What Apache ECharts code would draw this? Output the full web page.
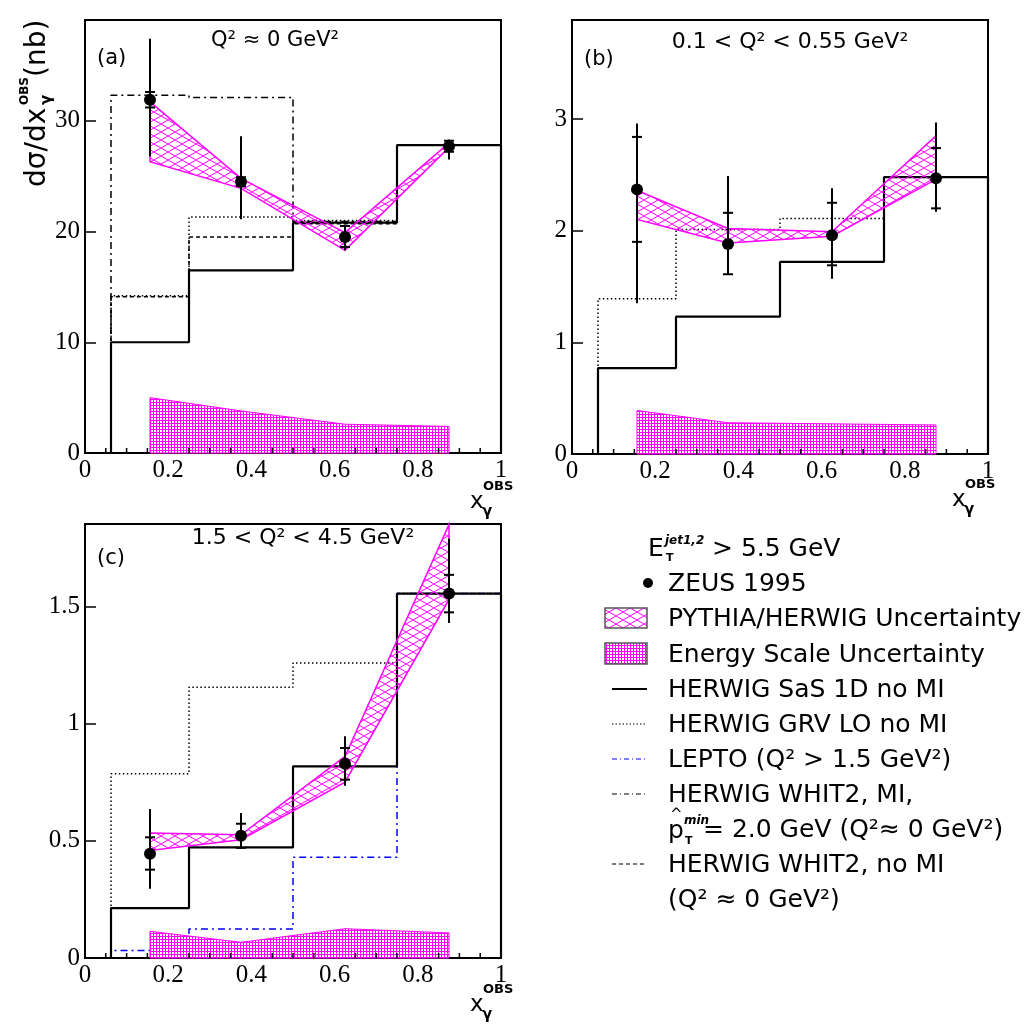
<!DOCTYPE html>
<html><head><meta charset="utf-8">
<script src="https://cdn.jsdelivr.net/npm/echarts@6/dist/echarts.min.js"></script>
<style>html,body{margin:0;padding:0;background:#fff}#c{width:1027px;height:1025px}</style>
</head><body><div id="c"></div>
<script>
// ---------------- DATA ----------------
const binEdges = [0.0625, 0.25, 0.5, 0.75, 1.0];
const xPoints  = [0.15625, 0.375, 0.625, 0.875];
const xMinorTicks = [0.05, 0.1, 0.15, 0.25, 0.3, 0.35, 0.45, 0.5, 0.55, 0.65, 0.7, 0.75, 0.85, 0.9, 0.95];

// Panel (a)  Q^2 ~ 0
const aZeus     = [31.9, 24.5, 19.5, 27.7];
const aStatLo   = [31.2, 24.1, 18.6, 27.2];
const aStatHi   = [32.6, 24.9, 20.5, 28.2];
const aTotLo    = [26.8, 21.1, 18.3, 26.5];
const aTotHi    = [37.4, 28.6, 20.6, 28.3];
const aBandUp   = [31.7, 24.8, 19.9, 28.0];
const aBandLo   = [26.3, 23.9, 18.3, 27.6];
const aEscale   = [5.0, 3.8, 2.6, 2.4];
const aSaS      = [10.0, 16.5, 20.8, 27.8];
const aGRV      = [14.2, 21.3, 21.0, 27.8];
const aWhit2MI  = [32.3, 32.1, 20.9, 27.8];
const aWhit2    = [14.1, 19.5, 20.7, 27.8];

// Panel (b)  0.1 < Q^2 < 0.55
const bZeus     = [2.37, 1.88, 1.96, 2.47];
const bStatLo   = [1.90, 1.61, 1.69, 2.20];
const bStatHi   = [2.84, 2.16, 2.25, 2.74];
const bTotLo    = [1.35, 1.61, 1.57, 2.17];
const bTotHi    = [2.96, 2.49, 2.38, 2.97];
const bBandUp   = [2.36, 2.02, 1.99, 2.85];
const bBandLo   = [2.10, 1.89, 1.95, 2.46];
const bEscale   = [0.39, 0.28, 0.27, 0.26];
const bSaS      = [0.77, 1.23, 1.72, 2.48];
const bGRV      = [1.39, 2.01, 2.11, 2.48];

// Panel (c)  1.5 < Q^2 < 4.5
const cZeus     = [0.445, 0.522, 0.829, 1.555];
const cStatLo   = [0.377, 0.470, 0.761, 1.475];
const cStatHi   = [0.515, 0.573, 0.896, 1.635];
const cTotLo    = [0.295, 0.466, 0.735, 1.430];
const cTotHi    = [0.636, 0.619, 0.946, 1.790];
const cBandUp   = [0.533, 0.526, 0.860, 1.850];
const cBandLo   = [0.459, 0.505, 0.750, 1.530];
const cEscale   = [0.114, 0.067, 0.125, 0.107];
const cSaS      = [0.213, 0.472, 0.818, 1.555];
const cGRV      = [0.786, 1.155, 1.259, 1.555];
const cLepto    = [0.032, 0.124, 0.430, 1.555];

const yMaxes    = [39.1, 3.887, 1.852];
const yIntervals= [10, 1, 0.5];

// ---------------- PATTERNS ----------------
function crossPattern(){
  const c=document.createElement('canvas'); c.width=14; c.height=8;
  const g=c.getContext('2d'); g.strokeStyle='#ff00ff'; g.lineWidth=1;
  g.beginPath(); g.moveTo(0,0); g.lineTo(14,8); g.moveTo(0,8); g.lineTo(14,0); g.stroke();
  return {image:c, repeat:'repeat'};
}
function gridPattern(){
  const c=document.createElement('canvas'); c.width=3; c.height=3;
  const g=c.getContext('2d'); g.fillStyle='#ffffff'; g.fillRect(0,0,3,3);
  g.fillStyle='#ff00ff'; g.fillRect(0,0,1,3); g.fillRect(0,0,3,1);
  return {image:c, repeat:'repeat'};
}
const CROSS = crossPattern();
const GRIDP = gridPattern();

// ---------------- HELPERS ----------------
function stepPoints(vals){
  const pts=[[binEdges[0],0]];
  vals.forEach((v,i)=>{pts.push([binEdges[i],v]); pts.push([binEdges[i+1],v]);});
  pts.push([binEdges[binEdges.length-1],0]);
  return pts;
}
function hist(idx, vals, color, width, type, z){
  return {type:'line', xAxisIndex:idx, yAxisIndex:idx, data:stepPoints(vals), showSymbol:false, symbol:'none',
    lineStyle:{color, width, type}, z, silent:true, animation:false};
}
function band(idx, up, lo){
  return {type:'custom', xAxisIndex:idx, yAxisIndex:idx, data:[[xPoints[0], up[0]]], z:3, silent:true, animation:false,
    renderItem:(params, api)=>{
      const pts=[];
      for(let i=0;i<xPoints.length;i++) pts.push(api.coord([xPoints[i], up[i]]));
      for(let i=xPoints.length-1;i>=0;i--) pts.push(api.coord([xPoints[i], lo[i]]));
      return {type:'polygon', shape:{points:pts}, style:{fill:CROSS, stroke:'#ff00ff', lineWidth:1.5}};
    }};
}
function escale(idx, vals){
  return {type:'custom', xAxisIndex:idx, yAxisIndex:idx, data:[[xPoints[0], vals[0]]], z:3, silent:true, animation:false,
    renderItem:(params, api)=>{
      const pts=[api.coord([xPoints[0],0])];
      for(let i=0;i<xPoints.length;i++) pts.push(api.coord([xPoints[i], vals[i]]));
      pts.push(api.coord([xPoints[xPoints.length-1],0]));
      return {type:'polygon', shape:{points:pts}, style:{fill:GRIDP, stroke:'#ff00ff', lineWidth:1}};
    }};
}
function minorTicks(idx){
  return {type:'custom', xAxisIndex:idx, yAxisIndex:idx, data:xMinorTicks.map(v=>[v,0]), z:6, silent:true, animation:false,
    encode:{x:0, y:1},
    renderItem:(params, api)=>{
      const p=api.coord([api.value(0), 0]);
      return {type:'line', shape:{x1:p[0], y1:p[1], x2:p[0], y2:p[1]-5}, style:{stroke:'#000', lineWidth:1.5}};
    }};
}
function errBars(idx, zeus, sLo, sHi, tLo, tHi){
  const data = xPoints.map((x,i)=>[x, zeus[i], sLo[i], sHi[i], tLo[i], tHi[i]]);
  return {type:'custom', xAxisIndex:idx, yAxisIndex:idx, data, z:4, silent:true, animation:false,
    encode:{x:0, y:1},
    renderItem:(params, api)=>{
      const x=api.value(0);
      const pLo=api.coord([x, api.value(4)]), pHi=api.coord([x, api.value(5)]);
      const s1=api.coord([x, api.value(2)]), s2=api.coord([x, api.value(3)]);
      const st={stroke:'#000', lineWidth:2};
      return {type:'group', children:[
        {type:'line', shape:{x1:pLo[0], y1:pLo[1], x2:pHi[0], y2:pHi[1]}, style:st},
        {type:'line', shape:{x1:s1[0]-5, y1:s1[1], x2:s1[0]+5, y2:s1[1]}, style:st},
        {type:'line', shape:{x1:s2[0]-5, y1:s2[1], x2:s2[0]+5, y2:s2[1]}, style:st}
      ]};
    }};
}
function points(idx, zeus){
  return {type:'scatter', xAxisIndex:idx, yAxisIndex:idx, data:xPoints.map((x,i)=>[x,zeus[i]]),
    symbol:'circle', symbolSize:12, itemStyle:{color:'#000', opacity:1}, z:5, silent:true, animation:false};
}

const SERIF = '"Liberation Serif", "Times New Roman", serif';
const SANS = '"DejaVu Sans", sans-serif';

const grids = [
  {left:85, top:20, width:416, height:433},
  {left:572, top:20, width:416, height:434},
  {left:85, top:524, width:416, height:434}
];
const xAxes = grids.map((g,i)=>({
  type:'value', gridIndex:i, min:0, max:1, interval:0.2, position:'bottom',
  axisLine:{show:true, lineStyle:{color:'#000', width:2}},
  axisTick:{show:true, inside:true, length:10, lineStyle:{color:'#000', width:1.5}},
  splitLine:{show:false},
  axisLabel:{fontFamily:SERIF, fontSize:25, color:'#000', margin:5}
}));
const yAxes = grids.map((g,i)=>({
  type:'value', gridIndex:i, min:0, max:yMaxes[i], interval:yIntervals[i],
  axisLine:{show:true, lineStyle:{color:'#000', width:2}},
  axisTick:{show:true, inside:true, length:11, lineStyle:{color:'#000', width:1.5}},
  splitLine:{show:false},
  axisLabel:{fontFamily:SERIF, fontSize:25, color:'#000', margin:5,
    formatter:(v)=>{const r=v/yIntervals[i]; return Math.abs(r-Math.round(r))<1e-6 ? String(+v.toFixed(3)) : '';}}
}));

const series = [
  // (a)
  hist(0, aSaS, '#000', 2.2, 'solid', 2),
  hist(0, aGRV, '#000', 1.5, [1.5,2.5], 2),
  hist(0, aWhit2MI, '#000', 1.5, [7,4,2,4], 2),
  hist(0, aWhit2, '#000', 1.5, [4,3], 2),
  escale(0, aEscale), band(0, aBandUp, aBandLo),
  errBars(0, aZeus, aStatLo, aStatHi, aTotLo, aTotHi), points(0, aZeus), minorTicks(0),
  // (b)
  hist(1, bSaS, '#000', 2.2, 'solid', 2),
  hist(1, bGRV, '#000', 1.5, [1.5,2.5], 2),
  escale(1, bEscale), band(1, bBandUp, bBandLo),
  errBars(1, bZeus, bStatLo, bStatHi, bTotLo, bTotHi), points(1, bZeus), minorTicks(1),
  // (c)
  hist(2, cGRV, '#000', 1.5, [1.5,2.5], 2),
  hist(2, cLepto, '#0000ff', 1.5, [7,4,2,4], 2),
  hist(2, cSaS, '#000', 2.2, 'solid', 2),
  escale(2, cEscale), band(2, cBandUp, cBandLo),
  errBars(2, cZeus, cStatLo, cStatHi, cTotLo, cTotHi), points(2, cZeus), minorTicks(2)
];

// ---------------- TEXT / LEGEND GRAPHICS ----------------
const G=[];
function T(x,y,text,font,align){
  G.push({type:'text', x, y, silent:true, style:{text, font, fill:'#000', textAlign:align||'left', textVerticalAlign:'middle'}});
}
function xTitle(x,y){
  T(x, y, 'x', '23px '+SANS);
  T(x+13, y-15, 'OBS', 'bold 13px '+SANS);
  T(x+12, y+10, 'γ', 'bold 15px '+SANS);
}
// y-axis title (rotated)
G.push({type:'group', x:38, y:187, rotation:Math.PI/2, silent:true, children:[
  {type:'text', x:0, y:0, style:{text:'dσ/dx', font:'28px '+SANS, fill:'#000', textVerticalAlign:'middle'}},
  {type:'text', x:82, y:9, style:{text:'γ', font:'bold 15px '+SANS, fill:'#000', textVerticalAlign:'middle'}},
  {type:'text', x:82, y:-13, style:{text:'OBS', font:'bold 12px '+SANS, fill:'#000', textVerticalAlign:'middle'}},
  {type:'text', x:110, y:0, style:{text:'(nb)', font:'28px '+SANS, fill:'#000', textVerticalAlign:'middle'}}
]});
// panel labels & titles
T(97, 59, '(a)', '21px '+SANS);
T(584, 60, '(b)', '21px '+SANS);
T(97, 559, '(c)', '21px '+SANS);
T(275, 41, 'Q² ≈ 0 GeV²', '21px '+SANS, 'center');
T(790, 42, '0.1 < Q² < 0.55 GeV²', '22px '+SANS, 'center');
T(303, 538, '1.5 < Q² < 4.5 GeV²', '22px '+SANS, 'center');
xTitle(470, 502);
xTitle(952, 500);
xTitle(470, 1005);

// legend
const LF = '25px '+SANS;
T(648, 549, 'E', LF);
T(665, 541, 'jet1,2', 'italic bold 12px '+SANS);
T(666, 558, 'T', 'bold 11px '+SANS);
T(712, 549, '> 5.5 GeV', LF);
G.push({type:'circle', shape:{cx:648, cy:583, r:5}, style:{fill:'#000'}, silent:true});
T(668, 584, 'ZEUS 1995', LF);
G.push({type:'rect', shape:{x:605, y:608, width:42, height:20}, style:{fill:CROSS, stroke:'#555', lineWidth:1.5}, silent:true});
T(668, 619, 'PYTHIA/HERWIG Uncertainty', LF);
G.push({type:'rect', shape:{x:605, y:643, width:42, height:21}, style:{fill:GRIDP, stroke:'#555', lineWidth:1.5}, silent:true});
T(668, 655, 'Energy Scale Uncertainty', LF);
function legLine(y, color, width, dash){
  G.push({type:'line', shape:{x1:612, y1:y, x2:647, y2:y}, style:{stroke:color, lineWidth:width, lineDash:dash}, silent:true});
}
legLine(689, '#000', 2.2, null);
T(668, 690, 'HERWIG SaS 1D no MI', LF);
legLine(724, '#000', 1.2, [1.5,2]);
T(668, 725, 'HERWIG GRV LO no MI', LF);
legLine(759, '#0000ff', 1.2, [5,3,1,3]);
T(668, 760, 'LEPTO (Q² > 1.5 GeV²)', LF);
legLine(794, '#000', 1.2, [5,3,1,3]);
T(668, 795, 'HERWIG WHIT2, MI,', LF);
T(670, 815, '^', '15px '+SANS);
T(668, 831, 'p', LF);
T(684, 821, 'min', 'italic bold 12px '+SANS);
T(685, 841, 'T', 'bold 11px '+SANS);
T(703, 830, '= 2.0 GeV (Q²≈ 0 GeV²)', LF);
legLine(864, '#000', 1.2, [4,3]);
T(668, 865, 'HERWIG WHIT2, no MI', LF);
T(668, 900, '(Q² ≈ 0 GeV²)', LF);

const chart = echarts.init(document.getElementById('c'), null, {renderer:'canvas'});
chart.setOption({
  backgroundColor:'#fff',
  animation:false,
  grid: grids.map(g=>Object.assign({show:true, borderColor:'#000', borderWidth:2, backgroundColor:'transparent', containLabel:false}, g)),
  xAxis: xAxes,
  yAxis: yAxes,
  series,
  graphic: G
});
</script>
</body></html>
